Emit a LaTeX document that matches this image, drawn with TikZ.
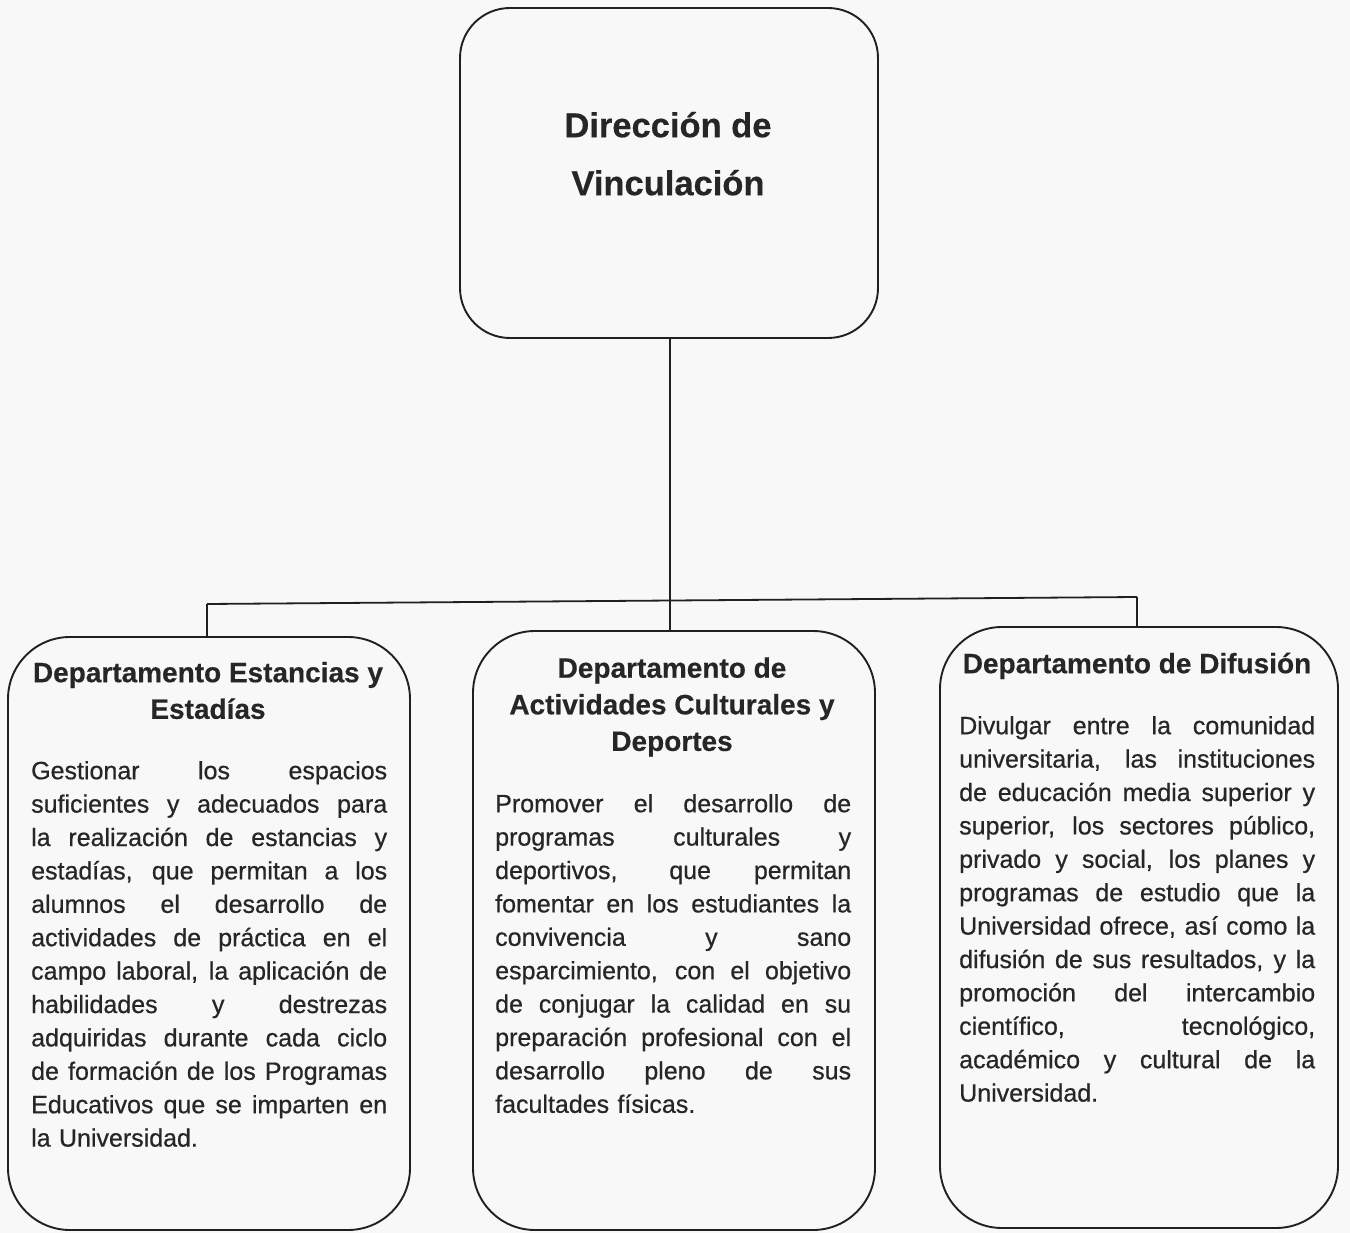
\documentclass[tikz,border=0pt]{standalone}
\usepackage{fontspec}
\setmainfont{Liberation Sans}
\definecolor{ink}{HTML}{202020}
\definecolor{txt}{HTML}{262626}
\definecolor{paper}{HTML}{F8F8F8}
\newlength{\bodyw}
\setlength{\bodyw}{356pt}
\newcommand{\jl}[1]{\makebox[\bodyw][s]{\spaceskip=0pt\xspaceskip=0pt\strut #1}\\}
\newcommand{\lastline}[1]{\strut #1}
\tikzset{
  orgbox/.style={draw=ink, line width=1.9pt, rounded corners=62pt, inner sep=0pt, fill=none},
  topbox/.style={draw=ink, line width=1.9pt, rounded corners=50pt, inner sep=0pt, fill=none},
  titletext/.style={font=\bfseries\fontsize{28}{36.6}\selectfont\addfontfeature{FakeBold=0.4}, align=center, inner sep=0pt, text=txt, anchor=north},
  toptitle/.style={font=\bfseries\fontsize{34.5}{58}\selectfont\addfontfeature{FakeBold=0.4}, align=center, inner sep=0pt, text=txt, anchor=north},
  bodytext/.style={text width=\bodyw, align=left, inner sep=0pt, font=\fontsize{25}{33.4}\selectfont\addfontfeature{FakeBold=0.6}, text=txt, anchor=north west},
  link/.style={draw=ink, line width=1.8pt}
}
\begin{document}
\begin{tikzpicture}[x=1pt,y=-1pt]
\useasboundingbox (0,0) rectangle (1350,1233);
\fill[paper] (0,0) rectangle (1350,1233);

% boxes
\node[topbox, minimum width=418pt, minimum height=330pt] (top) at (669,173) {};
\node[orgbox, minimum width=402pt, minimum height=593pt] (b1) at (209,933.5) {};
\node[orgbox, minimum width=402pt, minimum height=599pt] (b2) at (674,930.5) {};
\node[orgbox, minimum width=398pt, minimum height=601pt] (b3) at (1139,927.5) {};

% top title
\node[toptitle] (tt) at (668,{137-40.6}) {\strut Dirección de\\Vinculación};

% department titles
\node[titletext] (t1) at (208,{682-25.62}) {\strut Departamento Estancias y\\Estadías};
\node[titletext] (t2) at (672,{677.5-25.62}) {\strut Departamento de\\Actividades Culturales y\\Deportes};
\node[titletext] (t3) at (1137,{673-25.62}) {\strut Departamento de Difusión};

% body texts
\node[bodytext] (d1) at (31,{779-23.38}) {%
\jl{Gestionar los espacios}
\jl{suficientes y adecuados para}
\jl{la realización de estancias y}
\jl{estadías, que permitan a los}
\jl{alumnos el desarrollo de}
\jl{actividades de práctica en el}
\jl{campo laboral, la aplicación de}
\jl{habilidades y destrezas}
\jl{adquiridas durante cada ciclo}
\jl{de formación de los Programas}
\jl{Educativos que se imparten en}
\lastline{la Universidad.}};

\node[bodytext] (d2) at (495,{812-23.38}) {%
\jl{Promover el desarrollo de}
\jl{programas culturales y}
\jl{deportivos, que permitan}
\jl{fomentar en los estudiantes la}
\jl{convivencia y sano}
\jl{esparcimiento, con el objetivo}
\jl{de conjugar la calidad en su}
\jl{preparación profesional con el}
\jl{desarrollo pleno de sus}
\lastline{facultades físicas.}};

\node[bodytext] (d3) at (959,{734-23.38}) {%
\jl{Divulgar entre la comunidad}
\jl{universitaria, las instituciones}
\jl{de educación media superior y}
\jl{superior, los sectores público,}
\jl{privado y social, los planes y}
\jl{programas de estudio que la}
\jl{Universidad ofrece, así como la}
\jl{difusión de sus resultados, y la}
\jl{promoción del intercambio}
\jl{científico, tecnológico,}
\jl{académico y cultural de la}
\lastline{Universidad.}};

% connectors
\coordinate (j) at (670,600.5);
\coordinate (jl) at (207,604);
\coordinate (jr) at (1137,597);
\draw[link] (top.south -| j) -- (j);
\draw[link] (jl) -- (jr);
\draw[link] (jl) -- (jl |- b1.north);
\draw[link] (j) -- (j |- b2.north);
\draw[link] (jr) -- (jr |- b3.north);
\end{tikzpicture}
\end{document}
